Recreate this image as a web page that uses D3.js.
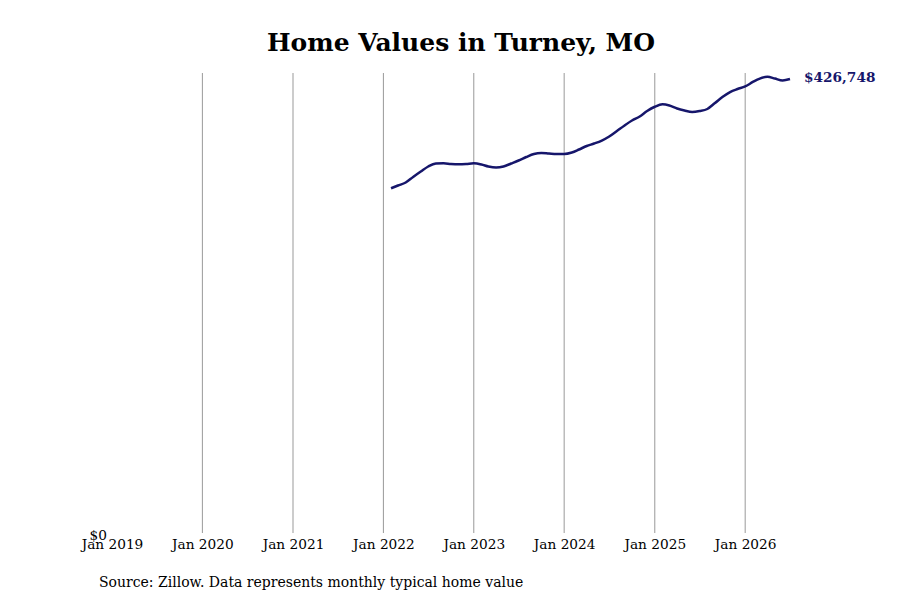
<!DOCTYPE html>
<html>
<head>
<meta charset="utf-8">
<script src="https://cdn.jsdelivr.net/npm/d3@7"></script>
<style>
  body { margin: 0; background: #fff; }
  text { font-family: "DejaVu Serif", serif; }
</style>
</head>
<body>
<svg id="chart" width="900" height="600"></svg>
<script>
// monthly typical home value, Feb 2022 - Jul 2026
const startMonth = "2022-02";
const homeValues = [
  324500, 327100, 329900, 335100, 340200, 344900, 347700, 347900, 347200, 346900, 347200,
  347900, 346800, 344900, 343900, 344900, 347700, 350500, 353800, 356600, 357500, 357000, 356600,
  356600, 358000, 360800, 364100, 366400, 369200, 373000, 378100, 383300, 387900, 391700, 396800,
  400800, 403100, 402000, 399200, 397300, 395900, 396800, 398700, 404300, 409900, 414600, 417400,
  419800, 424000, 427200, 428900, 427200, 425400, 426748
];
const tickYears = [2019, 2020, 2021, 2022, 2023, 2024, 2025, 2026];
const yTicks = [0];
const title = "Home Values in Turney, MO";
const source = "Source: Zillow. Data represents monthly typical home value";

const parse = d3.timeParse("%Y-%m");
const t0 = parse(startMonth);
const data = homeValues.map((v, i) => ({ date: d3.timeMonth.offset(t0, i), value: v }));

const svg = d3.select("#chart");
const margin = { top: 73, right: 110, bottom: 65, left: 112 };
const width = 900 - margin.left - margin.right;
const height = 600 - margin.top - margin.bottom;

const x = d3.scaleTime()
  .domain([new Date(tickYears[0], 0, 1), data[data.length - 1].date])
  .range([margin.left, margin.left + width]);

const y = d3.scaleLinear()
  .domain([0, 432400])
  .range([margin.top + height, margin.top]);

// title
svg.append("text")
  .attr("x", 461)
  .attr("y", 51)
  .attr("text-anchor", "middle")
  .style("font-size", "25px")
  .style("font-weight", "bold")
  .text(title);

// vertical gridlines
const tickDates = tickYears.map(yr => new Date(yr, 0, 1));
svg.append("g")
  .selectAll("line")
  .data(tickDates.slice(1))
  .join("line")
  .attr("x1", d => x(d))
  .attr("x2", d => x(d))
  .attr("y1", margin.top)
  .attr("y2", margin.top + height - 2)
  .attr("stroke", "#999")
  .attr("stroke-width", 1);

// x axis
const xAxis = svg.append("g")
  .attr("transform", "translate(0," + (margin.top + height) + ")")
  .call(d3.axisBottom(x).tickValues(tickDates).tickFormat(d3.timeFormat("Jan %Y")).tickSize(0).tickPadding(4));
xAxis.select(".domain").remove();
xAxis.selectAll("text")
  .style("font-family", "DejaVu Serif, serif")
  .style("font-size", "13.7px")
  .attr("fill", "#000");

// y axis (only $0)
const yAxis = svg.append("g")
  .attr("transform", "translate(" + (margin.left - 5) + ",0)")
  .call(d3.axisLeft(y).tickValues(yTicks).tickFormat(d => "$" + d3.format(",")(d)).tickSize(0).tickPadding(0));
yAxis.select(".domain").remove();
yAxis.selectAll("text")
  .style("font-family", "DejaVu Serif, serif")
  .style("font-size", "13.7px")
  .attr("fill", "#000");

// line
const line = d3.line()
  .x(d => x(d.date))
  .y(d => y(d.value))
  .curve(d3.curveMonotoneX);

svg.append("path")
  .datum(data)
  .attr("fill", "none")
  .attr("stroke", "#16166b")
  .attr("stroke-width", 2.5)
  .attr("d", line);

// end label
const last = data[data.length - 1];
svg.append("text")
  .attr("x", x(last.date) + 14)
  .attr("y", y(last.value) - 1)
  .attr("dominant-baseline", "middle")
  .attr("fill", "#16166b")
  .style("font-size", "13.7px")
  .style("font-weight", "bold")
  .text("$" + d3.format(",")(last.value));

// source
svg.append("text")
  .attr("x", 99)
  .attr("y", 587)
  .style("font-size", "14px")
  .text(source);
</script>
</body>
</html>
